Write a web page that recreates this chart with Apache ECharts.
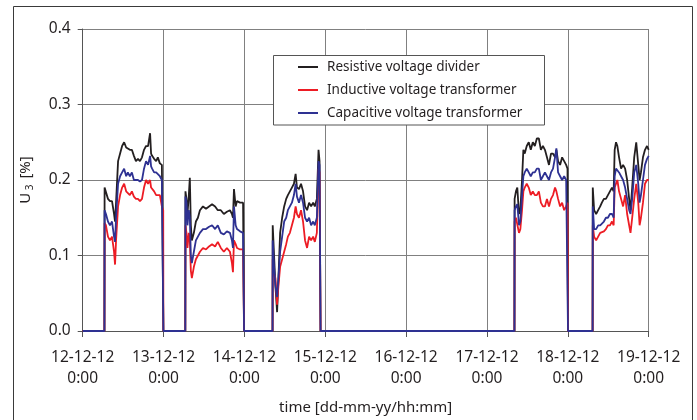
<!DOCTYPE html>
<html>
<head>
<meta charset="utf-8">
<script src="https://cdn.jsdelivr.net/npm/echarts@6/dist/echarts.min.js"></script>
<style>html,body{margin:0;padding:0;background:#fff;}#c{width:697px;height:420px;}</style>
</head>
<body>
<div id="c"></div>
<script>
// time in hours since 12-12-12 0:00
const hours = [
  0, 6.45,
  6.5, 6.9, 7.5, 8.1, 8.7, 9.3, 9.6, 9.9, 10.5, 11.1, 11.7, 12.3, 12.9, 13.4, 14.0, 14.6, 15.2, 15.8, 16.4, 17.0, 17.6, 18.2, 18.8, 19.4, 20.0, 20.3, 20.6, 21.2, 21.8, 22.3, 22.9, 23.5, 23.9,
  23.95, 30.45,
  30.5, 30.8, 31.1, 31.5, 31.8, 32.1, 32.4, 33.0, 33.6, 34.2, 34.8, 35.7, 36.6, 37.5, 38.4, 39.3, 40.1, 41.0, 41.9, 42.8, 43.7, 44.3, 44.6, 44.9, 45.4, 45.8, 46.7, 47.6,
  47.9, 56.35,
  56.4, 56.8, 57.2, 57.7, 58.1, 58.6, 59.2, 59.8, 60.4, 60.9, 61.5, 62.1, 62.7, 63.2, 63.6, 64.2, 64.8, 65.4, 66.0, 66.6, 67.2, 67.8, 68.4, 68.9, 69.5, 70.0, 70.3,
  70.6, 128.15,
  128.2, 128.6, 129.0, 129.5, 129.9, 130.4, 130.8, 131.2, 131.8, 132.4, 133.0, 133.6, 134.2, 134.8, 135.4, 136.0, 136.6, 137.2, 137.8, 138.4, 139.0, 139.6, 140.2, 140.6, 141.1, 141.7, 142.3, 142.9, 143.5, 143.9,
  144.05, 151.35,
  151.4, 151.8, 152.4, 153.0, 153.6, 154.1, 154.7, 155.3, 155.9, 156.5, 157.1, 157.6, 157.9, 158.3, 158.7, 159.2, 159.8, 160.4, 161.0, 161.6, 162.2, 162.6, 163.1, 163.7, 164.3, 164.9, 165.3, 165.7, 166.3, 166.9, 167.5, 168
];
const resistive = [
  0, 0,
  0.19, 0.19, 0.175, 0.172, 0.172, 0.155, 0.145, 0.17, 0.225, 0.235, 0.245, 0.25, 0.243, 0.245, 0.24, 0.24, 0.232, 0.225, 0.228, 0.225, 0.23, 0.24, 0.245, 0.245, 0.262, 0.235, 0.232, 0.228, 0.225, 0.23, 0.222, 0.22, 0.218,
  0, 0,
  0.185, 0.175, 0.155, 0.18, 0.203, 0.14, 0.12, 0.13, 0.145, 0.15, 0.16, 0.165, 0.162, 0.165, 0.168, 0.165, 0.16, 0.16, 0.155, 0.158, 0.16, 0.155, 0.15, 0.188, 0.165, 0.172, 0.17, 0.17,
  0, 0,
  0.14, 0.1, 0.06, 0.025, 0.07, 0.13, 0.15, 0.165, 0.175, 0.18, 0.185, 0.19, 0.195, 0.208, 0.19, 0.188, 0.195, 0.185, 0.165, 0.16, 0.17, 0.165, 0.17, 0.165, 0.175, 0.24, 0.225,
  0, 0,
  0.175, 0.185, 0.19, 0.155, 0.16, 0.2, 0.24, 0.235, 0.245, 0.25, 0.24, 0.25, 0.245, 0.255, 0.255, 0.24, 0.245, 0.24, 0.23, 0.22, 0.235, 0.235, 0.23, 0.24, 0.225, 0.22, 0.23, 0.225, 0.22, 0.215,
  0, 0,
  0.19, 0.16, 0.155, 0.16, 0.165, 0.17, 0.175, 0.175, 0.18, 0.185, 0.19, 0.185, 0.24, 0.25, 0.245, 0.23, 0.215, 0.22, 0.215, 0.2, 0.175, 0.16, 0.19, 0.23, 0.25, 0.22, 0.2, 0.21, 0.23, 0.24, 0.245, 0.24
];
const inductive = [
  0, 0,
  0.143, 0.14, 0.125, 0.12, 0.125, 0.105, 0.088, 0.12, 0.165, 0.18, 0.19, 0.195, 0.185, 0.185, 0.18, 0.185, 0.178, 0.175, 0.175, 0.172, 0.175, 0.19, 0.2, 0.195, 0.2, 0.19, 0.188, 0.185, 0.18, 0.182, 0.18, 0.165, 0.16,
  0, 0,
  0.14, 0.13, 0.11, 0.13, 0.12, 0.08, 0.07, 0.085, 0.095, 0.1, 0.105, 0.11, 0.108, 0.112, 0.115, 0.112, 0.118, 0.11, 0.105, 0.11, 0.105, 0.09, 0.078, 0.12, 0.115, 0.11, 0.108, 0.108,
  0, 0,
  0.095, 0.075, 0.07, 0.035, 0.06, 0.085, 0.095, 0.105, 0.115, 0.125, 0.13, 0.14, 0.15, 0.165, 0.155, 0.15, 0.16, 0.145, 0.12, 0.11, 0.125, 0.12, 0.125, 0.118, 0.13, 0.215, 0.21,
  0, 0,
  0.145, 0.15, 0.15, 0.13, 0.135, 0.16, 0.185, 0.19, 0.195, 0.19, 0.18, 0.185, 0.18, 0.18, 0.185, 0.17, 0.165, 0.165, 0.175, 0.165, 0.175, 0.18, 0.19, 0.185, 0.175, 0.165, 0.17, 0.16, 0.165, 0.17,
  0, 0,
  0.14, 0.125, 0.12, 0.125, 0.13, 0.128, 0.132, 0.135, 0.14, 0.14, 0.145, 0.14, 0.19, 0.195, 0.2, 0.185, 0.175, 0.165, 0.18, 0.155, 0.14, 0.13, 0.15, 0.175, 0.195, 0.17, 0.14, 0.15, 0.17, 0.195, 0.2, 0.2
];
const capacitive = [
  0, 0,
  0.16, 0.155, 0.145, 0.14, 0.145, 0.125, 0.118, 0.15, 0.195, 0.205, 0.21, 0.215, 0.205, 0.21, 0.205, 0.21, 0.2, 0.2, 0.2, 0.198, 0.2, 0.215, 0.225, 0.22, 0.232, 0.218, 0.215, 0.21, 0.21, 0.212, 0.205, 0.2, 0.2,
  0, 0,
  0.178, 0.17, 0.14, 0.16, 0.15, 0.1, 0.09, 0.105, 0.12, 0.125, 0.13, 0.135, 0.135, 0.138, 0.14, 0.135, 0.14, 0.13, 0.128, 0.132, 0.13, 0.12, 0.11, 0.165, 0.14, 0.135, 0.132, 0.13,
  0, 0,
  0.12, 0.085, 0.06, 0.045, 0.07, 0.105, 0.125, 0.145, 0.15, 0.16, 0.165, 0.17, 0.18, 0.195, 0.178, 0.17, 0.18, 0.17, 0.15, 0.145, 0.15, 0.14, 0.145, 0.14, 0.15, 0.225, 0.22,
  0, 0,
  0.16, 0.165, 0.168, 0.14, 0.145, 0.18, 0.205, 0.21, 0.215, 0.21, 0.205, 0.21, 0.21, 0.215, 0.215, 0.2, 0.205, 0.21, 0.205, 0.2, 0.21, 0.215, 0.23, 0.242, 0.21, 0.205, 0.2, 0.205, 0.2, 0.198,
  0, 0,
  0.165, 0.135, 0.135, 0.14, 0.14, 0.14, 0.145, 0.15, 0.15, 0.155, 0.155, 0.15, 0.205, 0.215, 0.215, 0.21, 0.205, 0.2, 0.19, 0.175, 0.16, 0.155, 0.175, 0.21, 0.22, 0.195, 0.17, 0.18, 0.2, 0.22, 0.228, 0.232
];
const dayLabels = ['12-12-12', '13-12-12', '14-12-12', '15-12-12', '16-12-12', '17-12-12', '18-12-12', '19-12-12'];
const seriesNames = ['Resistive voltage divider', 'Inductive voltage transformer', 'Capacitive voltage transformer'];
const seriesColors = ['#231f20', '#ed1c24', '#2e3192'];

const FONT = '"Noto Sans", sans-serif';
const pairs = arr => hours.map((h, i) => [h, arr[i]]);
const allValues = [resistive, inductive, capacitive];

const chart = echarts.init(document.getElementById('c'), null, {renderer: 'canvas'});
chart.setOption({
  animation: false,
  backgroundColor: '#fff',
  grid: {left: 82.7, right: 48.3, top: 29, bottom: 89, containLabel: false},
  graphic: [
    {type: 'rect', z: 0, shape: {x: 13.5, y: 6.5, width: 679, height: 430}, style: {fill: 'none', stroke: '#3a3a3a', lineWidth: 1}},
    {type: 'rect', z: 100, shape: {x: 273.5, y: 55.5, width: 271, height: 69.5}, style: {fill: '#fff', stroke: '#555', lineWidth: 1}}
  ],
  legend: {
    orient: 'vertical', left: 298, top: 59, itemWidth: 20, itemHeight: 2, itemGap: 7, z: 110,
    icon: 'rect', padding: 0,
    textStyle: {fontFamily: FONT, fontSize: 13.5, color: '#231f20', lineHeight: 16, padding: [0, 0, 0, 4]},
    data: seriesNames
  },
  xAxis: {
    type: 'value', min: 0, max: 168, interval: 24,
    axisLine: {show: true, onZero: false, lineStyle: {color: '#555', width: 1}},
    axisTick: {show: true, length: 6, inside: false, lineStyle: {color: '#555'}},
    splitLine: {show: true, lineStyle: {color: '#808080', width: 1}},
    axisLabel: {
      fontFamily: FONT, fontSize: 15.5, color: '#231f20', margin: 16, lineHeight: 21,
      formatter: v => dayLabels[Math.round(v / 24)] + '\n0:00'
    },
    name: 'time [dd-mm-yy/hh:mm]', nameLocation: 'middle', nameGap: 69,
    nameTextStyle: {fontFamily: FONT, fontSize: 15, color: '#231f20'}
  },
  yAxis: {
    type: 'value', min: 0, max: 0.4, interval: 0.1,
    axisLine: {show: true, lineStyle: {color: '#555', width: 1}},
    axisTick: {show: true, length: 5, lineStyle: {color: '#555'}},
    splitLine: {show: true, lineStyle: {color: '#808080', width: 1}},
    axisLabel: {fontFamily: FONT, fontSize: 15.5, color: '#231f20', margin: 12, formatter: v => v.toFixed(1)},
    name: '{u|U}{s| 3}{u| [%]}', nameLocation: 'middle', nameGap: 48, nameRotate: 90,
    nameTextStyle: {
      fontFamily: FONT, color: '#231f20',
      rich: {
        u: {fontFamily: FONT, fontSize: 15, color: '#231f20', lineHeight: 18},
        s: {fontFamily: FONT, fontSize: 10, color: '#231f20', lineHeight: 10, verticalAlign: 'bottom', padding: [0, 2, 0, 0]}
      }
    }
  },
  series: seriesNames.map((n, k) => ({
    name: n, type: 'line', data: pairs(allValues[k]), showSymbol: false, symbol: 'none',
    lineStyle: {color: seriesColors[k], width: 1.8}, itemStyle: {color: seriesColors[k]},
    z: 2 + k, silent: true
  }))
});
</script>
</body>
</html>
